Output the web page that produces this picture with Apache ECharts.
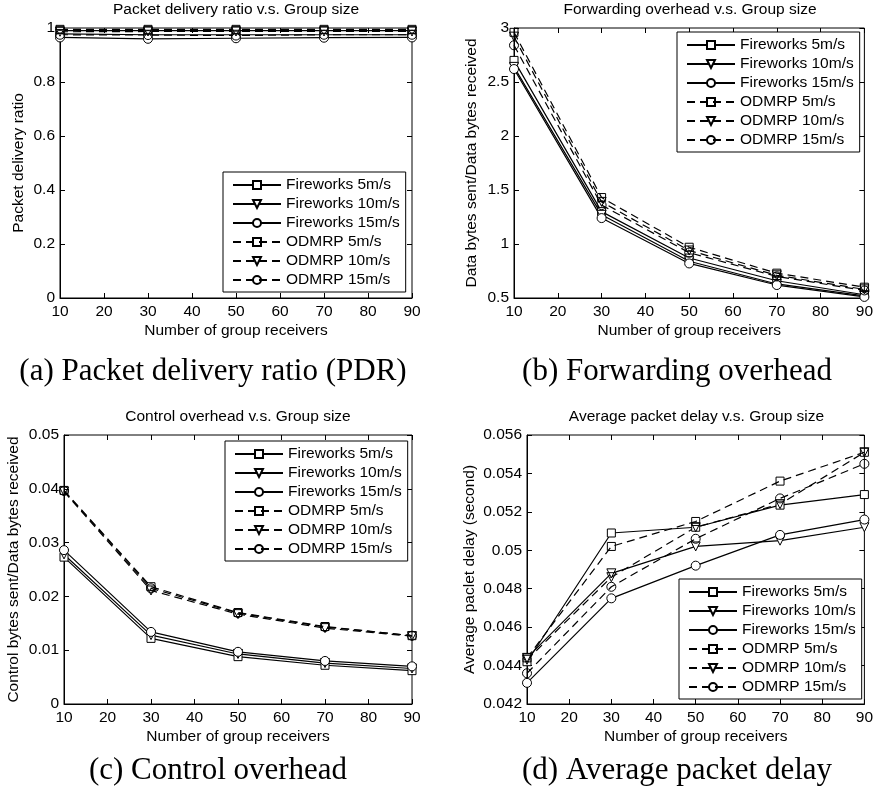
<!DOCTYPE html>
<html>
<head>
<meta charset="utf-8">
<script src="https://cdn.jsdelivr.net/npm/echarts@6/dist/echarts.min.js"></script>
<style>
  html, body { margin: 0; padding: 0; background: #fff; }
  #chart { width: 876px; height: 796px; }
</style>
</head>
<body>
<div id="chart"></div>
<script>
// x values shared by all four plots
const receivers = [10, 30, 50, 70, 90];
const seriesNames = ['Fireworks 5m/s', 'Fireworks 10m/s', 'Fireworks 15m/s',
  'ODMRP 5m/s', 'ODMRP 10m/s', 'ODMRP 15m/s'];
const xTicks = [10, 20, 30, 40, 50, 60, 70, 80, 90];

// (a) packet delivery ratio, one row per series
const pdrValues = [
  [0.990, 0.990, 0.990, 0.990, 0.990],
  [0.978, 0.975, 0.975, 0.975, 0.975],
  [0.965, 0.960, 0.962, 0.964, 0.965],
  [0.995, 0.995, 0.995, 0.995, 0.995],
  [0.986, 0.987, 0.987, 0.987, 0.987],
  [0.975, 0.974, 0.972, 0.975, 0.975]
];
// (b) forwarding overhead
const fwdValues = [
  [2.70, 1.30, 0.87, 0.66, 0.53],
  [2.64, 1.27, 0.84, 0.63, 0.52],
  [2.62, 1.24, 0.82, 0.62, 0.51],
  [2.96, 1.43, 0.97, 0.73, 0.60],
  [2.92, 1.39, 0.94, 0.71, 0.58],
  [2.84, 1.36, 0.92, 0.70, 0.57]
];
// (c) control overhead
const ctrlValues = [
  [0.0273, 0.0122, 0.0088, 0.0072, 0.0062],
  [0.0278, 0.0128, 0.0093, 0.0076, 0.0066],
  [0.0286, 0.0134, 0.0097, 0.0080, 0.0070],
  [0.0397, 0.0218, 0.0170, 0.0144, 0.0127],
  [0.0395, 0.0211, 0.0167, 0.0141, 0.0126],
  [0.0396, 0.0215, 0.0169, 0.0143, 0.0127]
];
// (d) average packet delay
const delayValues = [
  [0.0442, 0.0509, 0.0512, 0.05235, 0.0529],
  [0.0444, 0.0488, 0.0502, 0.0505, 0.0512],
  [0.0431, 0.0475, 0.0492, 0.0508, 0.0516],
  [0.0444, 0.0502, 0.0515, 0.0536, 0.0551],
  [0.0443, 0.0486, 0.0512, 0.0524, 0.0551],
  [0.0436, 0.0481, 0.0506, 0.0527, 0.0545]
];

const plotTitles = ['Packet delivery ratio v.s. Group size', 'Forwarding overhead v.s. Group size',
  'Control overhead v.s. Group size', 'Average packet delay v.s. Group size'];
const yNames = ['Packet delivery ratio', 'Data bytes sent/Data bytes received',
  'Control bytes sent/Data bytes received', 'Average paclet delay (second)'];
const captions = ['(a) Packet delivery ratio (PDR)', '(b) Forwarding overhead',
  '(c) Control overhead', '(d) Average packet delay'];
const yRanges = [[0, 1, 0.2], [0.5, 3, 0.5], [0, 0.05, 0.01], [0.042, 0.056, 0.002]];

const allValues = [pdrValues, fwdValues, ctrlValues, delayValues];

const sans = 'Liberation Sans, Arial, sans-serif';
const serif = 'Liberation Serif, DejaVu Serif, serif';
const fs = 15.5;

// plot boxes [left, top, width, height]
const boxes = [[60, 28, 352, 270], [514, 28, 352, 270], [64, 435, 348, 269], [527, 435, 339, 269]];
const yNameGaps = [33, 34, 42, 49];
const legendPos = [[223, 172], [677, 32], [225, 441], [679, 579]];
const captionPos = [[213, 372], [677, 372], [218, 771], [677, 771]];

const symbols = ['rect', 'triangle', 'circle', 'rect', 'triangle', 'circle'];

const grid = boxes.map(b => ({
  left: b[0], top: b[1], width: b[2], height: b[3],
  show: true, borderColor: '#000', borderWidth: 1, backgroundColor: '#fff'
}));

const xAxis = [], yAxis = [];
boxes.forEach((b, g) => {
  ['bottom', 'top'].forEach(pos => {
    const main = pos === 'bottom';
    xAxis.push({
      type: 'value', gridIndex: g, position: pos, min: 10, max: 90, interval: 10,
      axisLine: { show: main, onZero: false, lineStyle: { color: '#000', width: 1 } },
      axisTick: { show: true, inside: true, length: 5, lineStyle: { color: '#000' } },
      axisLabel: { show: main, color: '#000', fontSize: fs, fontFamily: sans, margin: 6 },
      splitLine: { show: false },
      name: main ? 'Number of group receivers' : '',
      nameLocation: 'middle', nameGap: 25,
      nameTextStyle: { color: '#000', fontSize: fs, fontFamily: sans }
    });
  });
  const r = yRanges[g];
  const dec = g === 3 ? 4 : 3;
  ['left', 'right'].forEach(pos => {
    const main = pos === 'left';
    yAxis.push({
      type: 'value', gridIndex: g, position: pos, min: r[0], max: r[1], interval: r[2],
      axisLine: { show: main, onZero: false, lineStyle: { color: '#000', width: 1 } },
      axisTick: { show: true, inside: true, length: 5, lineStyle: { color: '#000' } },
      axisLabel: {
        show: main, color: '#000', fontSize: fs, fontFamily: sans, margin: 5,
        formatter: v => String(+v.toFixed(dec))
      },
      splitLine: { show: false },
      name: main ? yNames[g] : '',
      nameLocation: 'middle', nameGap: yNameGaps[g],
      nameTextStyle: { color: '#000', fontSize: fs, fontFamily: sans }
    });
  });
});

const series = [];
allValues.forEach((rows, g) => {
  rows.forEach((vals, i) => {
    const odmrp = i >= 3;
    series.push({
      type: 'line', name: seriesNames[i],
      xAxisIndex: g * 2, yAxisIndex: g * 2,
      data: receivers.map((x, k) => [x, vals[k]]),
      symbol: symbols[i], symbolSize: symbols[i] === 'rect' ? 8 : 9,
      symbolRotate: symbols[i] === 'triangle' ? 180 : 0,
      showAllSymbol: true,
      lineStyle: { color: '#000', width: 1.2, type: odmrp ? [8, 5] : 'solid' },
      itemStyle: { color: odmrp ? 'rgba(0,0,0,0)' : '#fff', borderColor: '#000', borderWidth: 1 },
      emphasis: { disabled: true },
      animation: false
    });
  });
});

const legend = legendPos.map((p, g) => ({
  left: p[0], top: p[1], orient: 'vertical',
  data: seriesNames,
  backgroundColor: '#fff', borderColor: '#000', borderWidth: 1,
  padding: [5, 6, 4, 9], itemGap: 3, itemWidth: 48, itemHeight: 10,
  selectedMode: false,
  textStyle: { color: '#000', fontSize: fs, fontFamily: sans, lineHeight: 16 }
}));

const graphic = [];
boxes.forEach((b, g) => {
  graphic.push({
    type: 'text', x: b[0] + b[2] / 2, y: b[1] - 18,
    style: { text: plotTitles[g], fill: '#000', fontSize: fs, fontFamily: sans, align: 'center', verticalAlign: 'middle' }
  });
  graphic.push({
    type: 'text', x: captionPos[g][0], y: captionPos[g][1],
    style: { text: captions[g], fill: '#000', fontSize: 31, fontFamily: serif, align: 'center', verticalAlign: 'middle' }
  });
});

const chart = echarts.init(document.getElementById('chart'));
chart.setOption({
  animation: false,
  backgroundColor: '#fff',
  grid, xAxis, yAxis, series, legend, graphic
});
</script>
</body>
</html>
